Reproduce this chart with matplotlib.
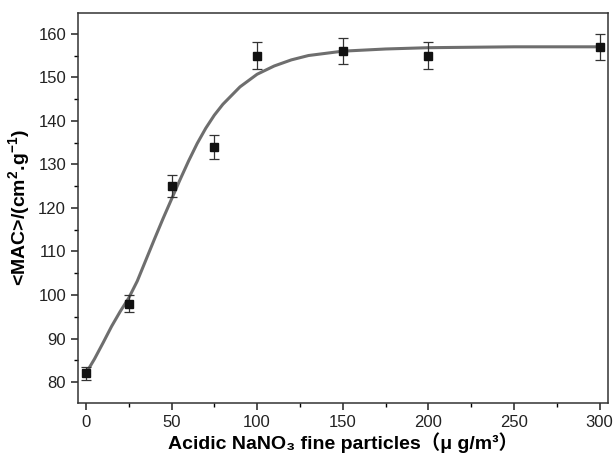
import matplotlib
matplotlib.use("Agg")
import matplotlib.pyplot as plt
import matplotlib.ticker as mticker

plt.rcParams["font.family"] = ["Liberation Sans", "Noto Sans CJK SC", "DejaVu Sans"]
plt.rcParams["mathtext.fontset"] = "custom"
plt.rcParams["mathtext.rm"] = "Liberation Sans"
plt.rcParams["mathtext.bf"] = "Liberation Sans:bold"

# measured points
conc = [0, 25, 50, 75, 100, 150, 200, 300]
mac = [82, 98, 125, 134, 155, 156, 155, 157]
mac_err = [1.5, 2.0, 2.5, 2.8, 3.0, 3.0, 3.0, 3.0]

# fitted curve
fit_x = [0, 5, 10, 15, 20, 25, 30, 35, 40, 45, 50, 55, 60, 65, 70, 75, 80,
         90, 100, 110, 120, 130, 150, 175, 200, 250, 300]
fit_y = [82, 85.3, 89.0, 92.8, 96.2, 99.3, 103.2, 108.0, 112.8, 117.5, 122, 126.5,
         130.8, 134.8, 138.3, 141.3, 143.8, 147.8, 150.7, 152.6, 154, 155, 156, 156.5,
         156.8, 157, 157]

fig = plt.figure(figsize=(6.13, 4.59), dpi=100)
ax = fig.add_axes([0.127, 0.122, 0.865, 0.850])

ax.plot(fit_x, fit_y, color="#6e6e6e", linewidth=2.2, zorder=2)
ax.errorbar(conc, mac, yerr=mac_err, fmt="s", color="#111111", markersize=6,
            ecolor="#333333", elinewidth=0.9, capsize=3.5, capthick=0.9, zorder=3)

ax.set_xlim(-4.7, 305)
ax.set_ylim(75.2, 164.8)
ax.xaxis.set_major_locator(mticker.MultipleLocator(50))
ax.xaxis.set_minor_locator(mticker.MultipleLocator(25))
ax.yaxis.set_major_locator(mticker.MultipleLocator(10))
ax.yaxis.set_minor_locator(mticker.MultipleLocator(5))
ax.tick_params(which="major", direction="out", length=5, width=1.1, labelsize=12,
               colors="#222222")
ax.tick_params(which="minor", direction="out", length=3, width=1.0)
for s in ax.spines.values():
    s.set_linewidth(1.1)
    s.set_color("#333333")

ax.set_xlabel("Acidic NaNO\u2083 fine particles\uff08\u03bc g/m\u00b3\uff09",
              fontsize=14, fontweight="bold", labelpad=2)
ax.set_ylabel("<MAC>/(cm$^\\mathbf{2}$.g$^\\mathbf{-1}$)", fontsize=14,
              fontweight="bold", labelpad=4)

fig.savefig("out.png", dpi=100)
